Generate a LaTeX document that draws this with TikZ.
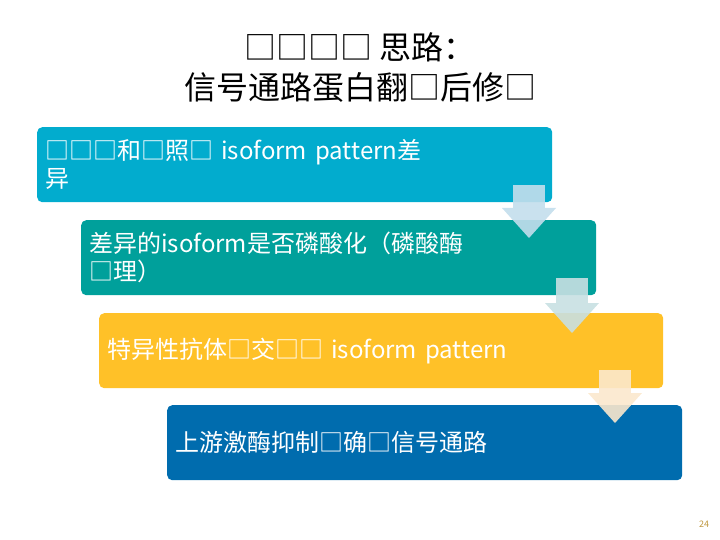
\documentclass[tikz,border=0pt]{standalone}
\usepackage{fontspec}
\setmainfont{Noto Sans CJK SC}
\usetikzlibrary{positioning}
\usetikzlibrary{calc}

\definecolor{boxa}{RGB}{2,172,206}
\definecolor{boxb}{RGB}{0,160,155}
\definecolor{boxc}{RGB}{255,193,40}
\definecolor{boxd}{RGB}{0,108,174}
\definecolor{arra}{RGB}{195,222,236}
\definecolor{arrb}{RGB}{200,224,226}
\definecolor{arrc}{RGB}{251,232,205}
\definecolor{pagenum}{RGB}{190,150,60}

\tikzset{
	stepbox/.style={anchor=north west, rounded corners=5pt, minimum width=515pt, minimum height=75pt,
		text width=499pt, align=left, inner xsep=8pt, text=white, font=\fontsize{24}{28}\selectfont},
	downarrow/.style={opacity=0.9}
}

% arrow: centre x, top y, square bottom y, colour
\newcommand{\downarr}[4]{%
	\fill[downarrow,#4] (#1-16,#2) rectangle (#1+16,#3);
	\fill[downarrow,#4] (#1-27,#3) -- (#1+27,#3) -- (#1,#3+30) -- cycle;}

\begin{document}
\begin{tikzpicture}[x=1pt,y=-1pt]
		\useasboundingbox (0,0) rectangle (720,540);
		\node[align=center, font=\fontsize{32}{40}\selectfont] (title) at (360,68) {□□□□ 思路：\\信号通路蛋白翻□后修□};

		\node[stepbox, fill=boxa] (s1) at (37,127) {□□□和□照□ isoform pattern差\\异};
		\node[stepbox, fill=boxb] (s2) at (81,220) {差异的isoform是否磷酸化（磷酸酶\\□理）};
		\node[stepbox, fill=boxc, minimum width=564pt, text width=548pt] (s3) at (99,313) {特异性抗体□交□□ isoform pattern};
		\node[stepbox, fill=boxd] (s4) at (167,405) {上游激酶抑制□确□信号通路};

		\downarr{529}{185}{208}{arra}
		\downarr{572}{278}{303}{arrb}
		\downarr{615}{370}{393}{arrc}

		\node[font=\fontsize{9}{10}\selectfont, text=pagenum] (page) at (704,524) {24};
	\end{tikzpicture}
\end{document}
